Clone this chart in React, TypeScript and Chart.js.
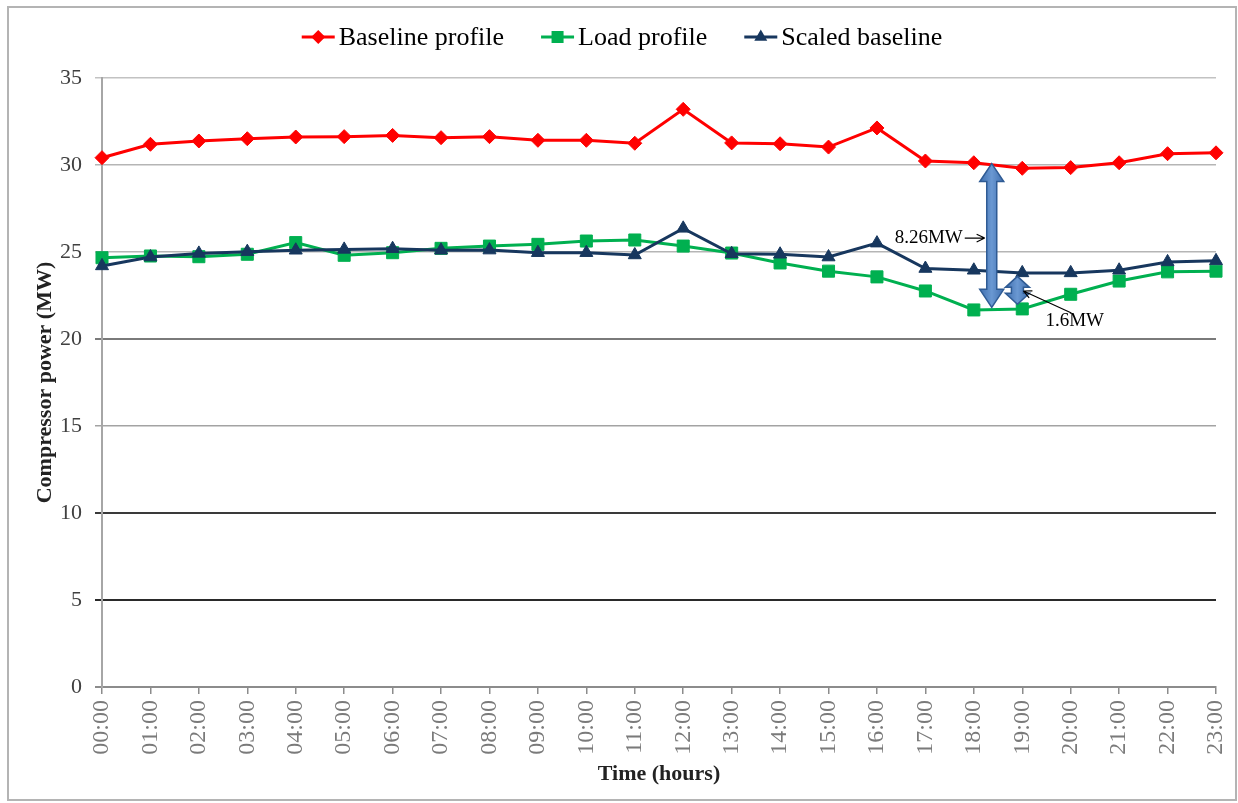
import React, { useEffect, useRef } from 'react';
import { Chart, registerables } from 'chart.js';

Chart.register(...registerables);

// Hourly compressor power (MW)
const hours = [
  '00:00', '01:00', '02:00', '03:00', '04:00', '05:00', '06:00', '07:00',
  '08:00', '09:00', '10:00', '11:00', '12:00', '13:00', '14:00', '15:00',
  '16:00', '17:00', '18:00', '19:00', '20:00', '21:00', '22:00', '23:00',
];

const baselineProfile = [
  30.42, 31.19, 31.38, 31.51, 31.61, 31.63, 31.70, 31.57, 31.63, 31.42, 31.42, 31.25,
  33.20, 31.27, 31.22, 31.03, 32.13, 30.23, 30.13, 29.81, 29.85, 30.13, 30.65, 30.70,
];

const loadProfile = [
  24.67, 24.77, 24.73, 24.87, 25.54, 24.81, 24.96, 25.21, 25.34, 25.44, 25.63, 25.69,
  25.34, 24.94, 24.37, 23.90, 23.57, 22.76, 21.67, 21.73, 22.57, 23.33, 23.86, 23.90,
];

const scaledBaseline = [
  24.20, 24.71, 24.92, 25.02, 25.10, 25.15, 25.19, 25.10, 25.11, 24.96, 24.96, 24.83,
  26.36, 24.90, 24.87, 24.71, 25.51, 24.05, 23.95, 23.80, 23.80, 23.95, 24.43, 24.49,
];

const seriesLabels = ['Baseline profile', 'Load profile', 'Scaled baseline'];

// Value axis range
const yMin = 0;
const yMax = 35;
const yStep = 5;

// Gap annotations: label and gap in MW
const peakGap = { label: '8.26MW', value: 8.26 };
const scaledGap = { label: '1.6MW', value: 1.6 };

const SERIF = "'Liberation Serif', 'Times New Roman', Times, serif";

type Shape = 'rectRot' | 'rect' | 'triangle';

function markerPath(ctx: CanvasRenderingContext2D, shape: Shape, x: number, y: number, r: number) {
  ctx.beginPath();
  if (shape === 'rectRot') {
    ctx.moveTo(x - r, y);
    ctx.lineTo(x, y - r);
    ctx.lineTo(x + r, y);
    ctx.lineTo(x, y + r);
  } else if (shape === 'rect') {
    const s = Math.SQRT1_2 * r;
    ctx.rect(x - s, y - s, 2 * s, 2 * s);
  } else {
    const h = (2 * Math.PI) / 3;
    ctx.moveTo(x, y - r);
    ctx.lineTo(x + Math.sin(h) * r, y - Math.cos(h) * r);
    ctx.lineTo(x + Math.sin(2 * h) * r, y - Math.cos(2 * h) * r);
  }
  ctx.closePath();
}

// Legend drawn as line + marker samples, centred above the plot
const lineLegend = {
  id: 'lineLegend',
  afterDraw(chart: any) {
    const { ctx, width } = chart;
    const sym = 33;
    const gapText = 4;
    const gapItem = 37;
    const y = 29;
    ctx.save();
    ctx.font = `26px ${SERIF}`;
    const items = chart.data.datasets.map((ds: any) => ({ ds, w: ctx.measureText(ds.label).width }));
    const total =
      items.reduce((s: number, it: any) => s + sym + gapText + it.w, 0) + gapItem * (items.length - 1);
    let x = width / 2 - total / 2;
    items.forEach(({ ds, w }: any) => {
      ctx.strokeStyle = ds.borderColor;
      ctx.lineWidth = 3;
      ctx.beginPath();
      ctx.moveTo(x, y);
      ctx.lineTo(x + sym, y);
      ctx.stroke();
      markerPath(ctx, ds.pointStyle, x + sym / 2, y, ds.pointRadius);
      ctx.fillStyle = ds.borderColor;
      ctx.fill();
      ctx.fillStyle = '#000';
      ctx.textAlign = 'left';
      ctx.textBaseline = 'middle';
      ctx.fillText(ds.label, x + sym + gapText, y + 1);
      x += sym + gapText + w + gapItem;
    });
    ctx.restore();
  },
};

function blockArrow(
  ctx: CanvasRenderingContext2D,
  cx: number,
  yTop: number,
  yBot: number,
  shaft: number,
  head: number,
  headLen: number,
) {
  ctx.beginPath();
  ctx.moveTo(cx, yTop);
  ctx.lineTo(cx + head, yTop + headLen);
  ctx.lineTo(cx + shaft, yTop + headLen);
  ctx.lineTo(cx + shaft, yBot - headLen);
  ctx.lineTo(cx + head, yBot - headLen);
  ctx.lineTo(cx, yBot);
  ctx.lineTo(cx - head, yBot - headLen);
  ctx.lineTo(cx - shaft, yBot - headLen);
  ctx.lineTo(cx - shaft, yTop + headLen);
  ctx.lineTo(cx - head, yTop + headLen);
  ctx.closePath();
  const g = ctx.createLinearGradient(cx - head, 0, cx + head, 0);
  g.addColorStop(0, '#3f6eae');
  g.addColorStop(0.5, '#6a98d2');
  g.addColorStop(1, '#3f6eae');
  ctx.fillStyle = g;
  ctx.fill();
  ctx.strokeStyle = '#2f5b94';
  ctx.lineWidth = 1.5;
  ctx.stroke();
}

function lineArrow(ctx: CanvasRenderingContext2D, x0: number, y0: number, x1: number, y1: number) {
  const ang = Math.atan2(y1 - y0, x1 - x0);
  const hl = 9;
  ctx.beginPath();
  ctx.moveTo(x0, y0);
  ctx.lineTo(x1, y1);
  ctx.moveTo(x1, y1);
  ctx.lineTo(x1 - hl * Math.cos(ang - 0.45), y1 - hl * Math.sin(ang - 0.45));
  ctx.moveTo(x1, y1);
  ctx.lineTo(x1 - hl * Math.cos(ang + 0.45), y1 - hl * Math.sin(ang + 0.45));
  ctx.stroke();
}

// Double-headed arrows marking the evening gaps, with their labels
const gapArrows = {
  id: 'gapArrows',
  afterDatasetsDraw(chart: any) {
    const { ctx } = chart;
    const xs = chart.scales.x;
    const ys = chart.scales.y;
    ctx.save();

    const bigX = xs.getPixelForValue(18.37);
    const bigBottom = 21.82;
    blockArrow(ctx, bigX, ys.getPixelForValue(bigBottom + peakGap.value), ys.getPixelForValue(bigBottom), 5, 12, 18);

    const smallX = xs.getPixelForValue(18.9);
    const smallMid = 22.8;
    blockArrow(
      ctx,
      smallX,
      ys.getPixelForValue(smallMid + scaledGap.value / 2),
      ys.getPixelForValue(smallMid - scaledGap.value / 2),
      6,
      12,
      11,
    );

    ctx.fillStyle = '#000';
    ctx.strokeStyle = '#000';
    ctx.lineWidth = 1.2;
    ctx.font = `19px ${SERIF}`;
    ctx.textBaseline = 'middle';

    const labelY = ys.getPixelForValue(25.8);
    ctx.textAlign = 'right';
    ctx.fillText(peakGap.label, bigX - 29, labelY);
    lineArrow(ctx, bigX - 27, labelY, bigX - 7, labelY);

    ctx.textAlign = 'left';
    ctx.fillText(scaledGap.label, smallX + 28, ys.getPixelForValue(21.03));

    // leader line pointing at the small arrow
    lineArrow(ctx, smallX + 54, ys.getPixelForValue(21.49), smallX + 6, ys.getPixelForValue(22.76));

    ctx.restore();
  },
};

const gridStyle: Record<number, { color: string; width: number }> = {
  0: { color: '#8c8c8c', width: 2 },
  5: { color: '#2a2a2a', width: 2 },
  10: { color: '#3a3a3a', width: 2 },
  15: { color: '#a3a3a3', width: 1.5 },
  20: { color: '#7a7a7a', width: 2 },
  25: { color: '#b5b5b5', width: 1.5 },
  30: { color: '#b5b5b5', width: 1.5 },
  35: { color: '#c2c2c2', width: 1.5 },
};

export default function App() {
  const canvasRef = useRef<HTMLCanvasElement | null>(null);

  useEffect(() => {
    const canvas = canvasRef.current;
    if (!canvas) return;
    const chart = new Chart(canvas, {
      type: 'line',
      data: {
        labels: hours,
        datasets: [
          {
            label: seriesLabels[0],
            data: baselineProfile,
            borderColor: '#ff0000',
            backgroundColor: '#ff0000',
            borderWidth: 3,
            pointStyle: 'rectRot',
            pointRadius: 7,
            pointBorderWidth: 1,
            tension: 0,
            order: 2,
          },
          {
            label: seriesLabels[1],
            data: loadProfile,
            borderColor: '#00b050',
            backgroundColor: '#00b050',
            borderWidth: 3,
            pointStyle: 'rect',
            pointRadius: 8.5,
            pointBorderWidth: 1,
            tension: 0,
            order: 1,
          },
          {
            label: seriesLabels[2],
            data: scaledBaseline,
            borderColor: '#17375e',
            backgroundColor: '#17375e',
            borderWidth: 3,
            pointStyle: 'triangle',
            pointRadius: 7.5,
            pointBorderWidth: 1,
            tension: 0,
            order: 0,
          },
        ],
      },
      options: {
        responsive: false,
        animation: false,
        events: [],
        layout: { padding: { top: 70, right: 19, bottom: 0, left: 0 } },
        plugins: {
          legend: { display: false },
          tooltip: { enabled: false },
        },
        scales: {
          x: {
            type: 'category',
            offset: false,
            afterFit: (scale: any) => {
              scale.height = 112;
              scale.paddingLeft = 0;
              scale.paddingRight = 0;
            },
            border: { display: true, color: '#8c8c8c', width: 2 },
            grid: {
              drawOnChartArea: false,
              drawTicks: true,
              tickLength: 7,
              color: '#8c8c8c',
              lineWidth: 1.5,
            },
            ticks: {
              autoSkip: false,
              minRotation: 90,
              maxRotation: 90,
              padding: 6,
              color: '#7a7a7a',
              font: { family: SERIF, size: 24 },
            },
            title: {
              display: true,
              text: 'Time (hours)',
              color: '#222',
              font: { family: SERIF, size: 22, weight: 'bold' },
              padding: { top: 0, bottom: 11 },
            },
          },
          y: {
            min: yMin,
            max: yMax,
            afterFit: (scale: any) => {
              scale.width = 93;
            },
            border: { display: true, color: '#a6a6a6', width: 2 },
            grid: {
              drawTicks: true,
              tickLength: 7,
              color: (c: any) => (gridStyle[c.tick?.value] || gridStyle[35]).color,
              lineWidth: (c: any) => (gridStyle[c.tick?.value] || gridStyle[35]).width,
            },
            ticks: {
              stepSize: yStep,
              padding: 13,
              color: '#404040',
              font: { family: SERIF, size: 22 },
            },
            title: {
              display: true,
              text: 'Compressor power (MW)',
              color: '#222',
              font: { family: SERIF, size: 22, weight: 'bold' },
              padding: { top: 23, bottom: 0 },
            },
          },
        },
      },
      plugins: [gapArrows, lineLegend],
    });
    return () => chart.destroy();
  }, []);

  return (
    <div
      style={{
        position: 'absolute',
        left: 7,
        top: 6,
        width: 1230,
        height: 795,
        border: '2px solid #b4b4b4',
        boxSizing: 'border-box',
        background: '#fff',
      }}
    >
      <canvas ref={canvasRef} width={1226} height={791} style={{ display: 'block', width: 1226, height: 791 }} />
    </div>
  );
}
